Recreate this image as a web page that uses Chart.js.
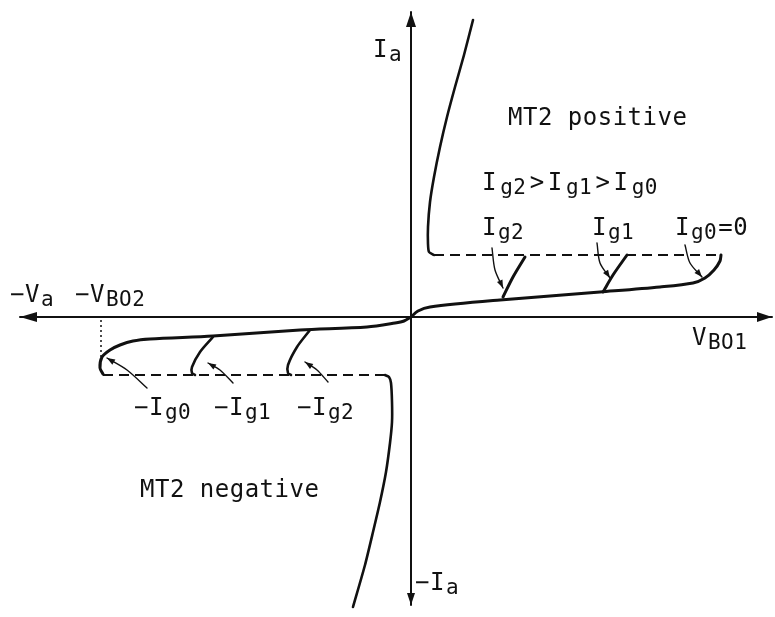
<!DOCTYPE html>
<html>
<head>
<meta charset="utf-8">
<script src="https://cdn.jsdelivr.net/npm/chart.js@4.4.1/dist/chart.umd.min.js"></script>
<style>
  html, body { margin: 0; padding: 0; background: #ffffff; }
  #wrap { width: 775px; height: 617px; }
</style>
</head>
<body>
<div id="wrap"><canvas id="c" width="775" height="617"></canvas></div>
<script>
// ---- Data (x = voltage units, y = current units; origin at axes crossing) ----
const axisX      = [[-39.1, 0], [36.1, 0]];
const axisY      = [[0, -28.8], [0, 30.5]];

// MT2 positive quadrant
const offPos     = [[0,0],[0.7,0.6],[1.9,1.0],[8.9,1.7],[18.9,2.5],[24.9,3.0],[28.2,3.4],[29.4,3.9],[30.3,4.7],[30.9,5.6],[31.0,6.2]];
const onPos      = [[2.3,6.2],[1.8,6.5],[1.7,7.3],[1.7,9.0],[1.9,11.5],[2.3,14.0],[2.9,17.0],[3.6,20.0],[4.4,23.0],[5.3,26.2],[6.2,29.7]];
const holdPos    = [[2.3,6.2],[30.9,6.2]];
const branchIg2  = [[9.2,2.0],[10.2,4.0],[11.4,6.0]];
const branchIg1  = [[19.2,2.5],[20.2,4.2],[21.6,6.2]];
const arrowIg2   = [[8.1,6.9],[8.4,4.7],[9.2,2.9]];
const arrowIg1   = [[18.6,7.4],[18.9,5.4],[19.9,3.9]];
const arrowIg0   = [[27.4,7.2],[27.9,5.4],[29.1,4.0]];

// MT2 negative quadrant
const offNeg     = [[0,0],[-0.7,-0.4],[-1.6,-0.6],[-4.4,-1.0],[-11.1,-1.3],[-19.8,-1.9],[-26.1,-2.2],[-27.8,-2.4],[-29.1,-2.8],[-30.1,-3.3],[-30.9,-4.0],[-31.1,-5.1],[-30.8,-5.7]];
const onNeg      = [[-2.6,-5.8],[-2.2,-6.0],[-2.0,-6.6],[-1.9,-8.5],[-1.9,-10.5],[-2.1,-12.6],[-2.5,-15.5],[-3.1,-18.5],[-3.8,-21.5],[-4.6,-24.8],[-5.8,-29.0]];
const holdNeg    = [[-30.8,-5.8],[-2.6,-5.8]];
const branchNg1  = [[-19.8,-2.0],[-21.1,-3.5],[-21.9,-5.0],[-21.9,-5.6],[-21.6,-5.8]];
const branchNg2  = [[-10.1,-1.3],[-11.4,-3.0],[-12.3,-4.8],[-12.3,-5.6],[-12.0,-5.8]];
const vbo2Marker = [[-31.0,-0.3],[-31.0,-4.3]];
const arrowNg0   = [[-26.4,-7.1],[-28.4,-5.3],[-30.4,-4.1]];
const arrowNg1   = [[-17.8,-6.6],[-19.1,-5.3],[-20.3,-4.6]];
const arrowNg2   = [[-8.3,-6.5],[-9.4,-5.3],[-10.6,-4.5]];

// Text labels: [parts, x, y, extra spacing]; parts = [text, isSubscript]
const textLabels = [
  [[["I",0],["a",1]], -3.8, 26.0, 1],
  [[["MT2 positive",0]], 9.7, 19.2, 0],
  [[["I",0],["g2",1],[">",0],["I",0],["g1",1],[">",0],["I",0],["g0",1]], 7.1, 12.7, 3.2],
  [[["I",0],["g2",1]], 7.1, 8.2, 1],
  [[["I",0],["g1",1]], 18.1, 8.2, 1],
  [[["I",0],["g0",1],["=0",0]], 26.4, 8.2, 1],
  [[["\u2212V",0],["a",1]], -40.1, 1.5, 1],
  [[["\u2212V",0],["BO2",1]], -33.6, 1.5, 1],
  [[["V",0],["BO1",1]], 28.1, -2.8, 1],
  [[["\u2212I",0],["g0",1]], -27.7, -9.8, 1],
  [[["\u2212I",0],["g1",1]], -19.7, -9.8, 1],
  [[["\u2212I",0],["g2",1]], -11.4, -9.8, 1],
  [[["MT2 negative",0]], -27.1, -18.0, 0],
  [[["\u2212I",0],["a",1]], 0.4, -27.3, 1]
];

const INK = '#111111';
const pts = a => a.map(p => ({x: p[0], y: p[1]}));

function line(data, opts) {
  return Object.assign({
    data: pts(data), showLine: true, borderColor: INK, backgroundColor: INK,
    borderWidth: 3, pointRadius: 0, tension: 0.3, fill: false,
    borderCapStyle: 'round', borderJoinStyle: 'round'
  }, opts || {});
}

const datasets = [
  line(axisX, {borderWidth: 2, tension: 0, arrowStart: [17, 5], arrowEnd: [15, 5]}),
  line(axisY, {borderWidth: 2, tension: 0, arrowStart: [12, 4], arrowEnd: [15, 5]}),
  line(offPos),
  line(onPos, {borderWidth: 2.6, tension: 0.2}),
  line(holdPos, {borderWidth: 2, tension: 0, borderDash: [10, 6], borderCapStyle: 'butt'}),
  line(branchIg2),
  line(branchIg1),
  line(arrowIg2, {borderWidth: 1.4, arrowEnd: [8, 3]}),
  line(arrowIg1, {borderWidth: 1.4, arrowEnd: [8, 3]}),
  line(arrowIg0, {borderWidth: 1.4, arrowEnd: [8, 3]}),
  line(offNeg),
  line(onNeg, {borderWidth: 2.6, tension: 0.2}),
  line(holdNeg, {borderWidth: 2, tension: 0, borderDash: [10, 6], borderCapStyle: 'butt'}),
  line(branchNg1, {borderWidth: 2.6}),
  line(branchNg2, {borderWidth: 2.6}),
  line(vbo2Marker, {borderWidth: 1.5, tension: 0, borderDash: [2, 3], borderCapStyle: 'butt'}),
  line(arrowNg0, {borderWidth: 1.4, arrowEnd: [8, 3]}),
  line(arrowNg1, {borderWidth: 1.4, arrowEnd: [8, 3]}),
  line(arrowNg2, {borderWidth: 1.4, arrowEnd: [8, 3]})
];

function drawHead(ctx, tip, from, len, half) {
  const dx = tip.x - from.x, dy = tip.y - from.y;
  const d = Math.hypot(dx, dy) || 1;
  const ux = dx / d, uy = dy / d;
  const bx = tip.x - ux * len, by = tip.y - uy * len;
  ctx.beginPath();
  ctx.moveTo(tip.x, tip.y);
  ctx.lineTo(bx - uy * half, by + ux * half);
  ctx.lineTo(bx + uy * half, by - ux * half);
  ctx.closePath();
  ctx.fill();
}

const arrowPlugin = {
  id: 'arrowHeads',
  afterDatasetsDraw(chart) {
    const ctx = chart.ctx, xs = chart.scales.x, ys = chart.scales.y;
    ctx.save();
    ctx.fillStyle = INK;
    chart.data.datasets.forEach(ds => {
      const p = ds.data.map(q => ({x: xs.getPixelForValue(q.x), y: ys.getPixelForValue(q.y)}));
      if (ds.arrowEnd) drawHead(ctx, p[p.length - 1], p[p.length - 2], ds.arrowEnd[0], ds.arrowEnd[1]);
      if (ds.arrowStart) drawHead(ctx, p[0], p[1], ds.arrowStart[0], ds.arrowStart[1]);
    });
    ctx.restore();
  }
};

const textPlugin = {
  id: 'diagramText',
  afterDraw(chart) {
    const ctx = chart.ctx, xs = chart.scales.x, ys = chart.scales.y;
    ctx.save();
    ctx.fillStyle = INK;
    ctx.textBaseline = 'alphabetic';
    ctx.textAlign = 'left';
    textLabels.forEach(([parts, x, y, gap]) => {
      let px = xs.getPixelForValue(x);
      const py = ys.getPixelForValue(y);
      parts.forEach(([t, sub]) => {
        ctx.font = sub ? '500 21px "DejaVu Sans Mono"' : '500 24px "DejaVu Sans Mono"';
        try { ctx.letterSpacing = '0.5px'; } catch (e) {}
        ctx.fillText(t, px, py + (sub ? 4 : 0));
        px += ctx.measureText(t).width + gap;
      });
    });
    ctx.restore();
  }
};

new Chart(document.getElementById('c'), {
  type: 'scatter',
  data: { datasets },
  options: {
    responsive: false,
    animation: false,
    layout: { padding: 0 },
    plugins: { legend: { display: false }, tooltip: { enabled: false } },
    scales: {
      x: { type: 'linear', min: -41.1, max: 36.4, display: false },
      y: { type: 'linear', min: -30.0, max: 31.7, display: false }
    }
  },
  plugins: [arrowPlugin, textPlugin]
});
</script>
</body>
</html>
